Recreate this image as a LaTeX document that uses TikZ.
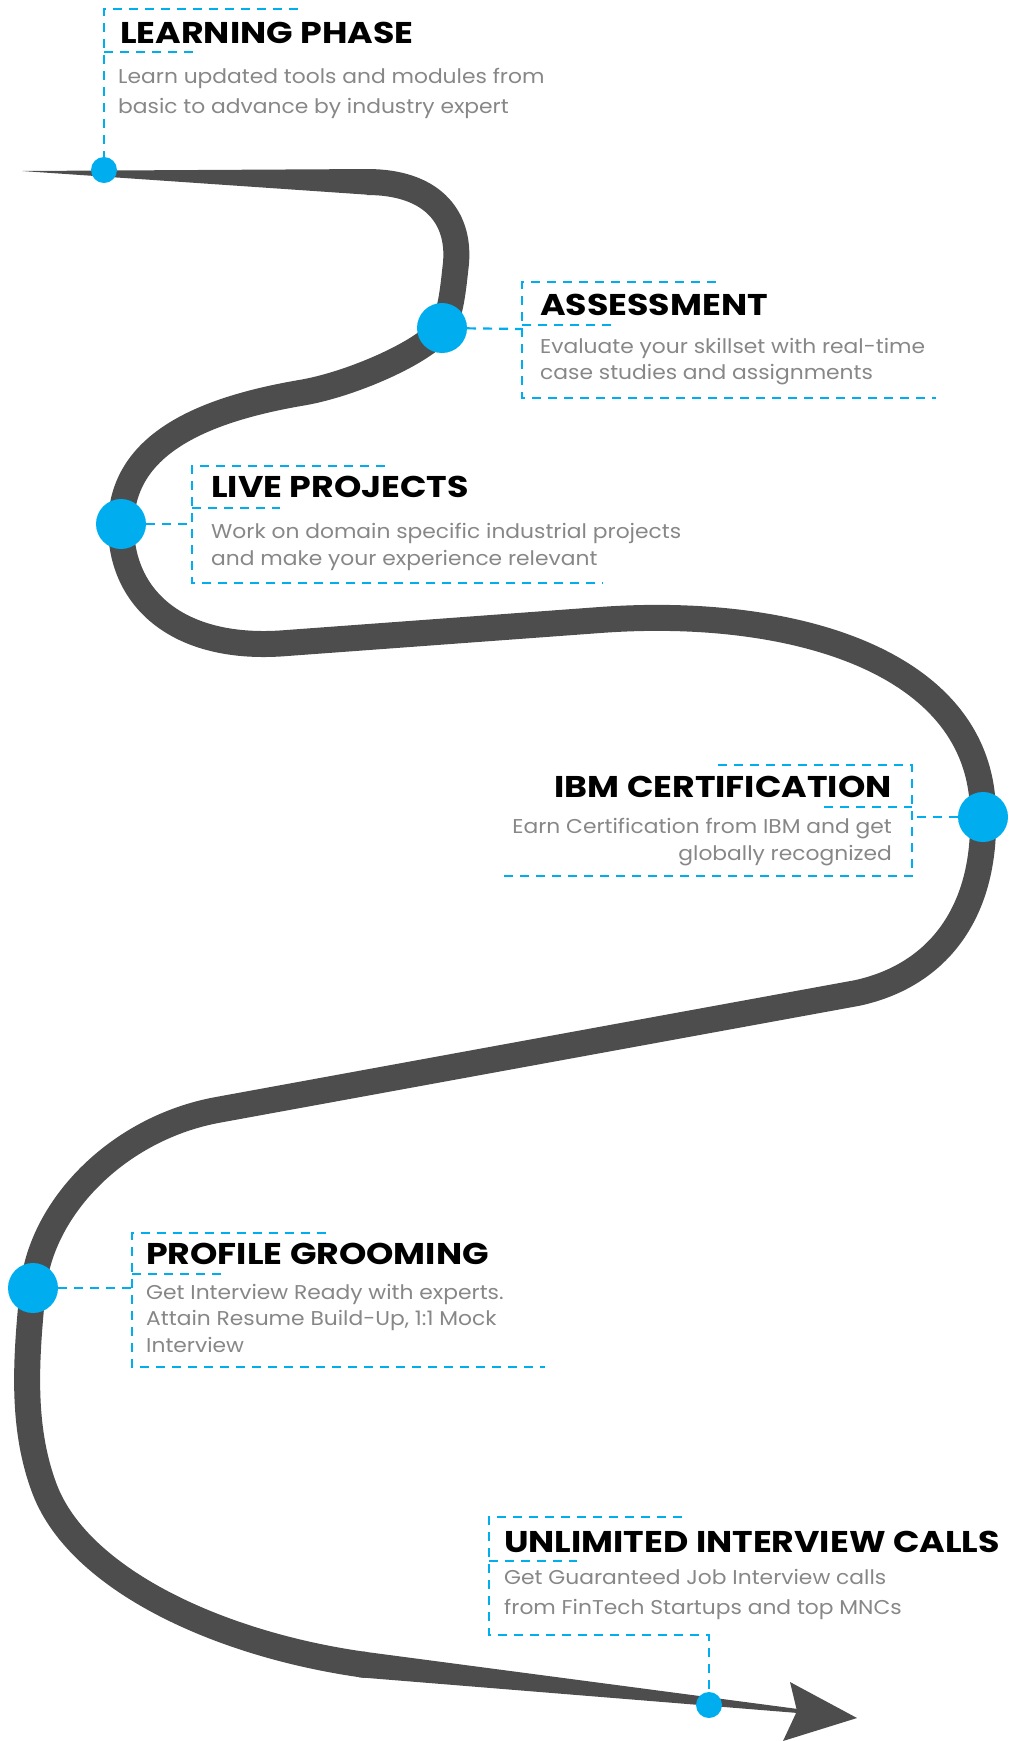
\documentclass[tikz,border=0pt]{standalone}
\usepackage{fontspec}
\setmainfont{Poppins}
\newfontfamily\titlefont{Poppins}[FakeStretch=1.16]
\newfontfamily\descfont{Poppins}[FakeStretch=1.09]
\definecolor{roadgray}{HTML}{4D4D4D}
\definecolor{dotblue}{HTML}{00AEEF}
\definecolor{notegray}{HTML}{878787}

\begin{document}
\begin{tikzpicture}[x=1pt,y=-1pt]
  \tikzstyle{every node}=[inner sep=0pt]
  \tikzstyle{title}=[anchor=base west,font=\titlefont\fontsize{30}{36}\selectfont\bfseries]
  \tikzstyle{desc}=[anchor=base west,align=left,text=notegray,font=\descfont\fontsize{20}{27}\selectfont]
  \tikzstyle{bigdot}=[circle,fill=dotblue,minimum size=50pt]
  \tikzstyle{smalldot}=[circle,fill=dotblue,minimum size=26pt]
  \tikzstyle{guide}=[dotblue,line width=2.2pt,dash pattern=on 9pt off 7pt]
 \useasboundingbox (0,0) rectangle (1009,1741);

 % the road
 \fill[roadgray] (22,171) -- (372,169) -- (372,195) -- cycle;
 \draw[roadgray,line width=26pt] (367,182) .. controls (430,182) and (460,215) .. (456,263)
   .. controls (453,290) and (451,313) .. (442,328)
   .. controls (425,352) and (350,385) .. (300,393)
   .. controls (190,412) and (122,450) .. (121,524)
   .. controls (120,600) and (180,652) .. (287,643)
   -- (600,620)
   .. controls (790,606) and (985,660) .. (983,817)
   .. controls (985,910) and (940,975) .. (857,993)
   -- (217,1110)
   .. controls (120,1128) and (42,1205) .. (33,1288)
   .. controls (25,1365) and (22,1430) .. (45,1490)
   .. controls (80,1580) and (220,1645) .. (366,1665);
 \fill[roadgray] (362.8,1651.5) -- (798,1709) -- (798,1713) -- (359.2,1677.3) -- cycle;
 \fill[roadgray] (790,1682) -- (857,1718) -- (783,1741) -- (797,1711) -- cycle;

 \node[smalldot] (learn) at (104,170) {};
 \node[bigdot] (assess) at (442,328) {};
 \node[bigdot] (live) at (121,524) {};
 \node[bigdot] (ibm) at (983,817) {};
 \node[bigdot] (groom) at (33,1288) {};
 \node[smalldot] (calls) at (709,1705) {};

 \coordinate (assessin) at (522,329);
 \coordinate (livein) at (192,524);
 \coordinate (ibmin) at (912,817);
 \coordinate (groomin) at (132,1288);

 % frames
 \draw[guide] (298,9) -- (104,9) -- (learn);
 \draw[guide] (104,52) -- (193,52);
 \draw[guide] (assess) -- (assessin);
 \draw[guide] (716,282) -- (522,282) -- (522,398) -- (936,398);
 \draw[guide] (522,325) -- (611,325);
 \draw[guide] (live) -- (livein);
 \draw[guide] (385,466) -- (192,466) -- (192,583) -- (603,583);
 \draw[guide] (192,508) -- (280,508);
 \draw[guide] (ibm) -- (ibmin);
 \draw[guide] (718,765) -- (912,765) -- (912,876) -- (500,876);
 \draw[guide] (824,807) -- (912,807);
 \draw[guide] (groom) -- (groomin);
 \draw[guide] (326,1233) -- (132,1233) -- (132,1367) -- (545,1367);
 \draw[guide] (132,1274) -- (221,1274);
 \draw[guide] (682,1517) -- (489,1517) -- (489,1635) -- (709,1635) -- (calls);
 \draw[guide] (489,1561) -- (577,1561);

 \node[title] (learnt) at (120,43) {LEARNING PHASE};
 \node[desc,font=\descfont\fontsize{20}{30}\selectfont] (learnd) at (118,113) {Learn updated tools and modules from\\basic to advance by industry expert};
 \node[title] (assesst) at (540,315) {ASSESSMENT};
 \node[desc,font=\descfont\fontsize{20}{26}\selectfont] (assessd) at (540,379) {Evaluate your skillset with real-time\\case studies and assignments};
 \node[title] (livet) at (211,497) {LIVE PROJECTS};
 \node[desc] (lived) at (211,565) {Work on domain specific industrial projects\\and make your experience relevant};
 \node[title,anchor=base east] (ibmt) at (892,797) {IBM CERTIFICATION};
 \node[desc,anchor=base east,align=right] (ibmd) at (892,860) {Earn Certification from IBM and get\\globally recognized};
 \node[title] (groomt) at (146,1264) {PROFILE GROOMING};
 \node[desc,font=\descfont\fontsize{20}{26.5}\selectfont] (groomd) at (146,1352) {Get Interview Ready with experts.\\Attain Resume Build-Up, 1:1 Mock\\Interview};
 \node[title] (callst) at (504,1552) {UNLIMITED INTERVIEW CALLS};
 \node[desc,font=\descfont\fontsize{20}{30}\selectfont] (callsd) at (504,1614) {Get Guaranteed Job Interview calls\\from FinTech Startups and top MNCs};
\end{tikzpicture}
\end{document}
